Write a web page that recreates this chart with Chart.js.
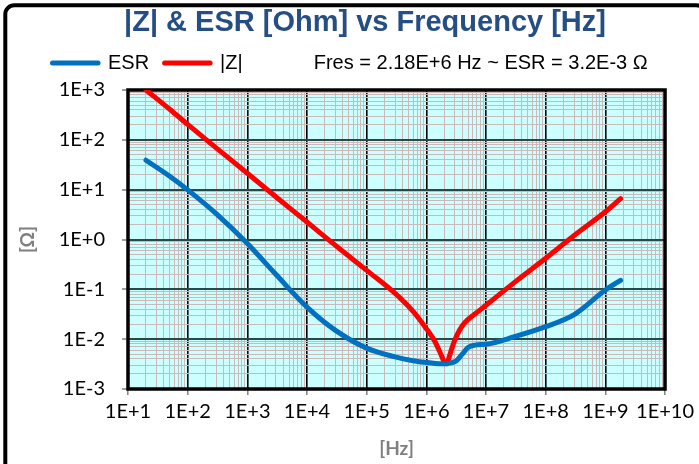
<!DOCTYPE html>
<html><head><meta charset="utf-8">
<script src="https://cdn.jsdelivr.net/npm/chart.js@4.4.1/dist/chart.umd.min.js"></script>
<style>html,body{margin:0;padding:0;background:#fff;overflow:hidden}canvas{display:block}</style>
</head><body>
<canvas id="c" width="699" height="464"></canvas>
<script>
// ---------- data ----------
const titleText = '|Z| & ESR [Ohm] vs Frequency [Hz]';
const seriesNames = ['ESR', '|Z|'];
const fresNote = 'Fres = 2.18E+6 Hz ~ ESR = 3.2E-3 \u03A9';
const xAxisTitle = '[Hz]';
const yAxisTitle = '[\u03A9]';

const frequencyHz = [20, 50, 100, 300, 1e3, 3e3, 1e4, 3e4, 1e5, 3e5, 6e5, 1e6, 1.4e6, 1.8e6, 1.95e6,
  2.18e6, 2.43e6, 2.7e6, 3.2e6, 4e6, 5e6, 6.5e6, 1e7, 3e7, 1e8, 3e8, 1e9, 1.8e9];
const esrOhm = [39, 18.6, 9.9, 3.3, 0.83, 0.20, 0.044, 0.015, 0.0066, 0.0044, 0.0037, 0.0034, 0.00325, 0.0032, 0.0032,
  0.0032, 0.0033, 0.0034, 0.0037, 0.0050, 0.0068, 0.0076, 0.0079, 0.0112, 0.0178, 0.031, 0.097, 0.152];
const impedanceOhm = [1000, 410, 204, 69, 21.4, 7.2, 2.24, 0.76, 0.24, 0.083, 0.036, 0.0162, 0.0089, 0.0046, 0.0037,
  0.0032, 0.0045, 0.0068, 0.0115, 0.0186, 0.025, 0.032, 0.048, 0.138, 0.42, 1.2, 3.6, 6.6];

const xDecadeExponents = [1, 2, 3, 4, 5, 6, 7, 8, 9, 10];
const yDecadeExponents = [-3, -2, -1, 0, 1, 2, 3];
const minorSteps = [1, 2, 3, 4, 5, 6, 7, 8, 9];

// ---------- helpers ----------
function isDecade(v) { const l = Math.log10(v); return Math.abs(l - Math.round(l)) < 1e-9; }
function expLabel(v) { const e = Math.round(Math.log10(v)); return '1E' + (e >= 0 ? '+' : '-') + Math.abs(e); }
function buildLogTicks(exps) {
  const t = [];
  for (let i = 0; i < exps.length - 1; i++) {
    for (const k of minorSteps) t.push({ value: k * Math.pow(10, exps[i]) });
  }
  t.push({ value: Math.pow(10, exps[exps.length - 1]) });
  return t;
}
const pts = vals => frequencyHz.map((f, i) => ({ x: f, y: vals[i] }));

const tickFont = { family: 'Lato', size: 20 };
const axisTitleFont = { family: 'Lato', size: 19, weight: 'bold', lineHeight: 1.2 };
const SHIFT = 7;

const framePlugin = {
  id: 'framePlugin',
  beforeDraw(chart) {
    const ctx = chart.ctx, a = chart.chartArea;
    ctx.save();
    ctx.fillStyle = '#ffffff';
    ctx.fillRect(0, 0, chart.width, chart.height);
    ctx.strokeStyle = '#000';
    ctx.lineWidth = 4;
    ctx.beginPath();
    ctx.roundRect(5.3, 5.3, 700, 470, 9);
    ctx.stroke();
    ctx.fillStyle = '#CCFFFF';
    ctx.fillRect(a.left, a.top, a.right - a.left, a.bottom - a.top);
    ctx.restore();
  },
  beforeDatasetsDraw(chart) {
    const ctx = chart.ctx, a = chart.chartArea;
    ctx.save();
    ctx.strokeStyle = '#000';
    ctx.lineWidth = 3.5;
    ctx.strokeRect(a.left, a.top, a.right - a.left, a.bottom - a.top);
    ctx.restore();
  },
  afterLayout(chart) {
    const t = chart.titleBlock;
    if (t) { t.left = 31; t.right = 699; t.top -= SHIFT; t.bottom -= SHIFT; }
    const l = chart.legend;
    if (l) { l.left = 37; l.top -= SHIFT; l.bottom -= SHIFT; }
  }
};

new Chart(document.getElementById('c'), {
  type: 'line',
  data: {
    datasets: [
      { label: seriesNames[0], data: pts(esrOhm), borderColor: '#0070C0', backgroundColor: '#0070C0',
        borderWidth: 5, pointRadius: 0, borderCapStyle: 'round', borderJoinStyle: 'round',
        cubicInterpolationMode: 'monotone', fill: false },
      { label: seriesNames[1], data: pts(impedanceOhm), borderColor: '#FF0000', backgroundColor: '#FF0000',
        borderWidth: 5, pointRadius: 0, borderCapStyle: 'round', borderJoinStyle: 'round',
        cubicInterpolationMode: 'monotone', fill: false }
    ]
  },
  options: {
    responsive: false,
    animation: false,
    devicePixelRatio: 1,
    layout: { padding: { left: 12, right: 30, top: 15, bottom: 0 } },
    plugins: {
      title: {
        display: true, text: titleText, color: '#254E85',
        font: { family: 'Liberation Sans', size: 29, weight: 'bold', lineHeight: 1.0 },
        padding: { top: 0, bottom: 0.5 }
      },
      legend: {
        display: true, position: 'top', align: 'start',
        labels: {
          usePointStyle: true, pointStyleWidth: 45.5, padding: 15.5, color: '#000',
          font: { family: 'Liberation Sans', size: 20 },
          generateLabels: () => [
            { text: seriesNames[0], strokeStyle: '#0070C0', fillStyle: '#0070C0', lineWidth: 5, lineCap: 'round', pointStyle: 'line', hidden: false, datasetIndex: 0, fontColor: '#000' },
            { text: seriesNames[1], strokeStyle: '#FF0000', fillStyle: '#FF0000', lineWidth: 5, lineCap: 'round', pointStyle: 'line', hidden: false, datasetIndex: 1, fontColor: '#000' },
            { text: fresNote, strokeStyle: 'rgba(0,0,0,0)', fillStyle: 'rgba(0,0,0,0)', lineWidth: 0, pointStyle: 'line', hidden: false, fontColor: '#000' }
          ]
        }
      },
      tooltip: { enabled: false }
    },
    scales: {
      x: {
        type: 'logarithmic', min: 10, max: 1e10,
        afterBuildTicks: s => { s.ticks = buildLogTicks(xDecadeExponents); },
        afterFit: s => { s.height = 75; },
        border: { display: false },
        grid: {
          color: c => isDecade(c.tick.value) ? '#000000' : '#C9B9B9',
          lineWidth: c => isDecade(c.tick.value) ? 1.6 : 1,
          tickColor: c => isDecade(c.tick.value) ? '#808080' : 'rgba(0,0,0,0)',
          tickLength: 6, tickWidth: 1.5, drawTicks: true
        },
        ticks: {
          autoSkip: false, maxRotation: 0, minRotation: 0, padding: 5, color: '#000', font: tickFont,
          callback: v => isDecade(v) ? expLabel(v) : ''
        },
        title: { display: true, text: xAxisTitle, color: '#7F7F7F', font: axisTitleFont, padding: { top: 4, bottom: 4 } }
      },
      y: {
        type: 'logarithmic', min: 1e-3, max: 1e3,
        afterBuildTicks: s => { s.ticks = buildLogTicks(yDecadeExponents); },
        afterFit: s => { s.width = 116; },
        border: { display: false },
        grid: {
          color: c => isDecade(c.tick.value) ? '#2B4848' : '#C9B9B9',
          lineWidth: c => isDecade(c.tick.value) ? 2 : 1,
          tickColor: c => isDecade(c.tick.value) ? '#808080' : 'rgba(0,0,0,0)',
          tickLength: 6, tickWidth: 1.5, drawTicks: true
        },
        ticks: {
          autoSkip: false, padding: 17, color: '#000', font: tickFont,
          callback: v => isDecade(v) ? expLabel(v) : ''
        },
        title: { display: true, text: yAxisTitle, color: '#7F7F7F', font: axisTitleFont, padding: { top: 4, bottom: 4 } }
      }
    }
  },
  plugins: [framePlugin]
});
</script>
</body></html>
